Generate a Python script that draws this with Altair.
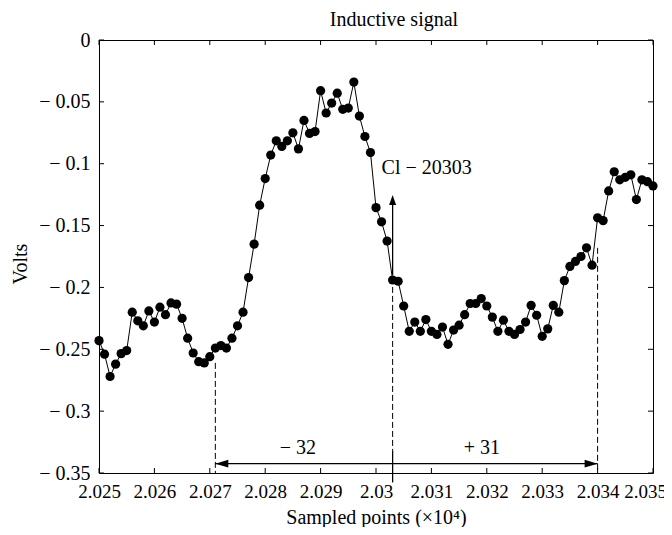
import altair as alt
import pandas as pd

# ---- data ----
samples = list(range(20250, 20351))
volts = [
    -0.243, -0.254, -0.272, -0.262, -0.2535, -0.251, -0.220, -0.227, -0.231, -0.219,
    -0.228, -0.216, -0.222, -0.2125, -0.2135, -0.225, -0.241, -0.253, -0.260, -0.261,
    -0.256, -0.249, -0.247, -0.249, -0.241, -0.231, -0.220, -0.192, -0.165, -0.1335,
    -0.112, -0.093, -0.0815, -0.086, -0.0815, -0.075, -0.088, -0.065, -0.0755, -0.074,
    -0.041, -0.059, -0.051, -0.043, -0.056, -0.055, -0.034, -0.0615, -0.078, -0.091,
    -0.1355, -0.147, -0.1625, -0.194, -0.195, -0.215, -0.2355, -0.228, -0.2355, -0.226,
    -0.2355, -0.238, -0.232, -0.246, -0.2345, -0.2305, -0.222, -0.213, -0.213, -0.209,
    -0.215, -0.224, -0.2355, -0.2265, -0.2355, -0.238, -0.234, -0.228, -0.2145, -0.2225,
    -0.2395, -0.2335, -0.2145, -0.220, -0.1945, -0.183, -0.179, -0.175, -0.168, -0.182,
    -0.1437, -0.146, -0.122, -0.1065, -0.113, -0.111, -0.109, -0.129, -0.113, -0.1145,
    -0.118,
]
x_ticks = [2.025, 2.026, 2.027, 2.028, 2.029, 2.030, 2.031, 2.032, 2.033, 2.034, 2.035]
y_ticks = [0, -0.05, -0.1, -0.15, -0.2, -0.25, -0.3, -0.35]

# annotations (data units)
left_mark, event_mark, right_mark = 2.0271, 2.0303, 2.034
left_top, event_top, right_top = -0.261, -0.1996, -0.168
span_y = -0.3425
solid_top, solid_bottom = -0.3317, -0.3576
arrow_bottom, arrow_head = -0.190, -0.1294
head_off = 0.000117
labels_txt = ["\u2212 32", "+ 31", "Cl \u2212 20303"]
labels_x = [2.02859, 2.03191, 2.0301]
labels_y = [-0.330, -0.330, -0.1036]

W, H = 554, 433
FONT = "Liberation Serif"

df = pd.DataFrame({"x": [s / 1e4 for s in samples], "y": volts})

xs = alt.Scale(domain=[2.025, 2.035], nice=False, zero=False)
ys = alt.Scale(domain=[-0.35, 0], nice=False, zero=False)
xax = alt.Axis(values=x_ticks, format=".4~f", ticks=False, grid=False,
               domain=False, labelPadding=9, titlePadding=6, labelOverlap=False,
               labelFlush=False, labelFontSize=19,
               labelOffset={"condition": {"test": "datum.value > 2.0349", "value": -8},
                            "value": 0})
yax = alt.Axis(values=y_ticks, ticks=False, grid=False, domain=False,
               labelPadding=9, titlePadding=8, labelOverlap=False, labelFlush=False,
               titleY=H / 2 + 7,
               labelExpr="datum.value < 0 ? '\u2212 ' + format(-datum.value, '~g') : '0'")
XT = "Sampled points (\u00d710\u2074)"
YT = "Volts"


def X(f="x"):
    return alt.X(f"{f}:Q", scale=xs, axis=xax, title=XT)


def Y(f="y"):
    return alt.Y(f"{f}:Q", scale=ys, axis=yax, title=YT)


base = alt.Chart(df)
line = base.mark_line(color="black", strokeWidth=1).encode(x=X(), y=Y())
pts = base.mark_circle(color="black", size=85, opacity=1).encode(x=X(), y=Y())

# inward ticks on all four sides
xt = pd.DataFrame({"x": x_ticks})
yt = pd.DataFrame({"y": y_ticks})
tb = alt.Chart(xt).mark_rule(color="black", strokeWidth=1).encode(
    x=X(), y=alt.value(H), y2=alt.value(H - 5))
tt = alt.Chart(xt).mark_rule(color="black", strokeWidth=1).encode(
    x=X(), y=alt.value(0), y2=alt.value(5))
tl = alt.Chart(yt).mark_rule(color="black", strokeWidth=1).encode(
    y=Y(), x=alt.value(0), x2=alt.value(5))
tr = alt.Chart(yt).mark_rule(color="black", strokeWidth=1).encode(
    y=Y(), x=alt.value(W), x2=alt.value(W - 5))

# dashed verticals
dash_df = pd.DataFrame({"x": [left_mark, event_mark, right_mark],
                        "y": [left_top, event_top, right_top],
                        "y2": [-0.35, solid_top, -0.35]})
dashes = alt.Chart(dash_df).mark_rule(color="black", strokeWidth=1, strokeDash=[6, 3]).encode(
    x=X(), y=Y(), y2="y2:Q")

# solid segments: horizontal span, event marker, up-arrow shaft
seg_df = pd.DataFrame({"x": [left_mark, event_mark, event_mark],
                       "x2": [right_mark, event_mark, event_mark],
                       "y": [span_y, solid_top, arrow_bottom],
                       "y2": [span_y, solid_bottom, arrow_head]})
segs = alt.Chart(seg_df).mark_rule(color="black", strokeWidth=1.3).encode(
    x=X(), x2="x2:Q", y=Y(), y2="y2:Q")

# arrow heads
hl = alt.Chart(pd.DataFrame({"x": [left_mark + head_off], "y": [span_y]})).mark_point(
    shape="M-1,0L1,-0.6L1,0.6Z", filled=True, color="black", opacity=1, size=169, strokeWidth=0
).encode(x=X(), y=Y())
hr = alt.Chart(pd.DataFrame({"x": [right_mark - head_off], "y": [span_y]})).mark_point(
    shape="M1,0L-1,-0.6L-1,0.6Z", filled=True, color="black", opacity=1, size=169, strokeWidth=0
).encode(x=X(), y=Y())
hu = alt.Chart(pd.DataFrame({"x": [event_mark], "y": [arrow_head]})).mark_point(
    shape="M0,-1L0.7,1L-0.7,1Z", filled=True, color="black", opacity=1, size=100, strokeWidth=0
).encode(x=X(), y=Y())

lab_df = pd.DataFrame({"x": labels_x, "y": labels_y, "t": labels_txt})
labs_c = alt.Chart(lab_df.iloc[:2]).mark_text(font=FONT, fontSize=20, color="black",
                                               align="center", baseline="middle").encode(
    x=X(), y=Y(), text="t:N")
labs_l = alt.Chart(lab_df.iloc[2:]).mark_text(font=FONT, fontSize=20, color="black",
                                               align="left", baseline="middle").encode(
    x=X(), y=Y(), text="t:N")

chart = alt.layer(line, pts, tb, tt, tl, tr, dashes, segs, hl, hr, hu, labs_c, labs_l).properties(
    width=W, height=H,
    title=alt.TitleParams("Inductive signal", font=FONT, fontSize=20, fontWeight="normal",
                          color="black", dx=18, offset=0, frame="group"),
    autosize=alt.AutoSizeParams(type="none"),
    padding={"left": 91, "top": 32, "right": 11, "bottom": 54},
).configure(
    background="white",
    view=alt.ViewConfig(stroke="black", strokeWidth=1),
    axis=alt.AxisConfig(labelFont=FONT, labelFontSize=20, labelColor="black",
                        titleFont=FONT, titleFontSize=20, titleFontWeight="normal",
                        titleColor="black"),
)

chart.save("out.html", embed_options={"renderer": "svg", "actions": False})
